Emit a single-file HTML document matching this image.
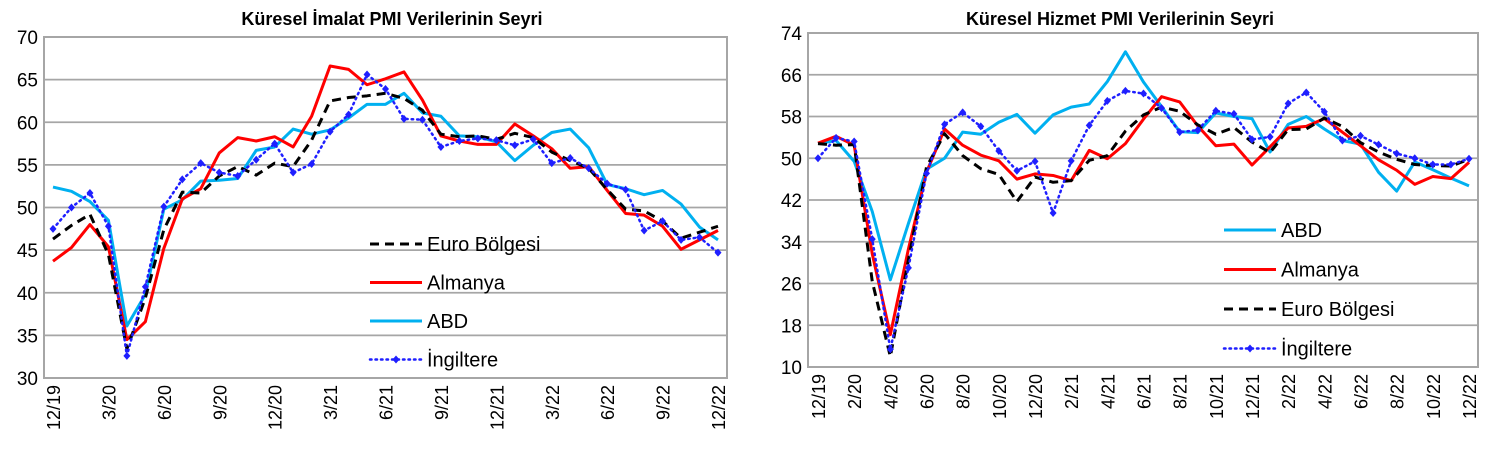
<!DOCTYPE html>
<html><head><meta charset="utf-8"><style>
body{margin:0;background:#fff;width:1488px;height:447px;overflow:hidden}
svg{font-family:"Liberation Sans",Arial,sans-serif}
</style></head><body>
<svg id="s" width="1488" height="447"></svg>
<script>
const months=[];for(let i=0;i<37;i++){const m=(11+i)%12+1,y=19+Math.floor((11+i)/12);months.push(m+'/'+y);}
const mfgEuro=[46.3,47.9,49.2,44.5,33.4,39.4,47.4,51.8,51.7,53.7,54.8,53.8,55.2,54.8,57.9,62.5,62.9,63.1,63.4,62.8,61.4,58.6,58.3,58.4,58.0,58.7,58.2,56.5,55.5,54.6,52.1,49.8,49.6,48.4,46.4,47.1,47.8];
const mfgGer=[43.7,45.3,48.0,45.4,34.5,36.6,45.2,51.0,52.2,56.4,58.2,57.8,58.3,57.1,60.7,66.6,66.2,64.4,65.1,65.9,62.6,58.4,57.8,57.4,57.4,59.8,58.4,56.9,54.6,54.8,52.0,49.3,49.1,47.8,45.1,46.2,47.3];
const mfgUS=[52.4,51.9,50.7,48.5,36.1,39.8,49.8,50.9,53.1,53.2,53.4,56.7,57.1,59.2,58.6,59.1,60.5,62.1,62.1,63.4,61.1,60.7,58.4,58.3,57.7,55.5,57.3,58.8,59.2,57.0,52.7,52.2,51.5,52.0,50.4,47.7,46.2];
const mfgUK=[47.5,50.0,51.7,47.8,32.6,40.7,50.1,53.3,55.2,54.1,53.7,55.6,57.5,54.1,55.1,58.9,60.9,65.6,63.9,60.4,60.3,57.1,57.8,58.1,57.9,57.3,58.0,55.2,55.8,54.6,52.8,52.1,47.3,48.4,46.2,46.5,44.7];
const svcUS=[52.8,53.4,49.4,39.8,26.7,37.5,47.9,50.0,55.0,54.6,56.9,58.4,54.8,58.3,59.8,60.4,64.7,70.4,64.6,59.9,55.1,54.9,58.7,58.0,57.6,51.2,56.5,58.0,55.6,53.4,52.7,47.3,43.7,49.3,47.8,46.2,44.7];
const svcGer=[52.9,54.2,52.5,31.7,16.2,32.6,47.3,55.6,52.5,50.6,49.5,46.0,47.0,46.7,45.7,51.5,49.9,52.8,57.5,61.8,60.8,56.2,52.4,52.7,48.7,52.2,55.8,56.1,57.6,55.0,52.4,49.7,47.7,45.0,46.5,46.1,49.2];
const svcEuro=[52.8,52.5,52.6,26.4,12.0,30.5,48.3,54.7,50.5,48.0,46.9,41.7,46.4,45.4,45.7,49.6,50.5,55.2,58.3,59.8,59.0,56.4,54.6,55.9,53.1,51.1,55.5,55.6,57.7,56.1,53.0,51.2,49.8,48.8,48.6,48.5,49.8];
const svcUK=[50.0,53.9,53.2,34.5,13.4,29.0,47.1,56.5,58.8,56.1,51.4,47.6,49.4,39.5,49.5,56.3,61.0,62.9,62.4,59.6,55.0,55.4,59.1,58.5,53.6,54.1,60.5,62.6,58.9,53.4,54.3,52.6,50.9,50.0,48.8,48.8,49.9];
const mfgTicks=[30,35,40,45,50,55,60,65,70];
const svcTicks=[10,18,26,34,42,50,58,66,74];

const S=document.getElementById('s');const NS='http://www.w3.org/2000/svg';
function el(t,a,p){const e=document.createElementNS(NS,t);for(const k in a)e.setAttribute(k,a[k]);(p||S).appendChild(e);return e;}
const styles={euro:{stroke:'#000',w:3,dash:'9,6'},ger:{stroke:'#ff0000',w:3,dash:null},us:{stroke:'#00b0f0',w:3,dash:null},uk:{stroke:'#1f1fff',w:2.5,dash:'1.5,4',marker:true}};
function chart(o){
  const g=el('g',{}) ;
  const ymin=o.ticks[0],ymax=o.ticks[o.ticks.length-1];
  const Y=v=>o.bottom-(v-ymin)/(ymax-ymin)*(o.bottom-o.top);
  const X=i=>o.x0+(o.x1-o.x0)*i/36;
  const t=el('text',{x:o.tx,y:25,'font-size':18,'font-weight':'bold','text-anchor':'middle'},g);t.textContent=o.title;
  
  o.ticks.forEach(v=>{
    if(v!==ymin&&v!==ymax){const l=el('line',{x1:o.left,x2:o.right,y1:Y(v),y2:Y(v),stroke:'#a6a6a6','stroke-width':1.8},g);}
    const tt=el('text',{x:o.left-6,y:Y(v)+7,'font-size':19,'text-anchor':'end'},g);tt.textContent=v;
    
  });
  const r=el('rect',{x:o.left,y:o.top,width:o.right-o.left,height:o.bottom-o.top,fill:'none',stroke:'#a6a6a6','stroke-width':2},g);
  
  months.forEach((m,i)=>{if(i%o.step)return;const x=X(i);
    const tt=el('text',{x:0,y:0,'font-size':18,'text-anchor':'end',transform:`translate(${x+7},${o.bottom+7}) rotate(-90)`},g);tt.textContent=m;
    });
  o.series.forEach(s=>{const st=styles[s.k];
    const p=el('polyline',{points:s.d.map((v,i)=>X(i)+','+Y(v)).join(' '),fill:'none',stroke:st.stroke,'stroke-width':st.w,'stroke-linejoin':'round'},g);
    if(st.dash)p.setAttribute('stroke-dasharray',st.dash);
    if(st.marker)p.setAttribute('stroke-linecap','round');
    
    if(st.marker)s.d.forEach((v,i)=>{const d=el('path',{d:`M${X(i)},${Y(v)-4}l3.5,4l-3.5,4l-3.5,-4z`,fill:st.stroke},g);});
  });
  o.legend.forEach((L,j)=>{const st=styles[L.k];const y=o.ly+j*o.lgap;
    const lg=el('g',{},g);
    const l=el('line',{x1:o.lx,x2:o.lx+52,y1:y,y2:y,stroke:st.stroke,'stroke-width':st.w,'stroke-linecap':st.marker?'round':'butt'},lg);
    if(st.dash)l.setAttribute('stroke-dasharray',st.dash);
    if(st.marker)el('path',{d:`M${o.lx+26},${y-4}l3.5,4l-3.5,4l-3.5,-4z`,fill:st.stroke},lg);
    const tt=el('text',{x:o.lx+57,y:y+7,'font-size':20},lg);tt.textContent=L.t;});
}
chart({name:'manufacturing-chart',title:'Küresel İmalat PMI Verilerinin Seyri',tx:392,left:44,right:727,top:37,bottom:378,x0:53,x1:718,ticks:mfgTicks,step:3,
 series:[{k:'us',d:mfgUS},{k:'ger',d:mfgGer},{k:'euro',d:mfgEuro},{k:'uk',d:mfgUK}],
 legend:[{k:'euro',t:'Euro Bölgesi'},{k:'ger',t:'Almanya'},{k:'us',t:'ABD'},{k:'uk',t:'İngiltere'}],lx:370,ly:244,lgap:38.5});
chart({name:'services-chart',title:'Küresel Hizmet PMI Verilerinin Seyri',tx:1120,left:808,right:1478,top:33,bottom:367,x0:818,x1:1469,ticks:svcTicks,step:2,
 series:[{k:'us',d:svcUS},{k:'ger',d:svcGer},{k:'euro',d:svcEuro},{k:'uk',d:svcUK}],
 legend:[{k:'us',t:'ABD'},{k:'ger',t:'Almanya'},{k:'euro',t:'Euro Bölgesi'},{k:'uk',t:'İngiltere'}],lx:1224,ly:230,lgap:39.5});
</script>
</body></html>
